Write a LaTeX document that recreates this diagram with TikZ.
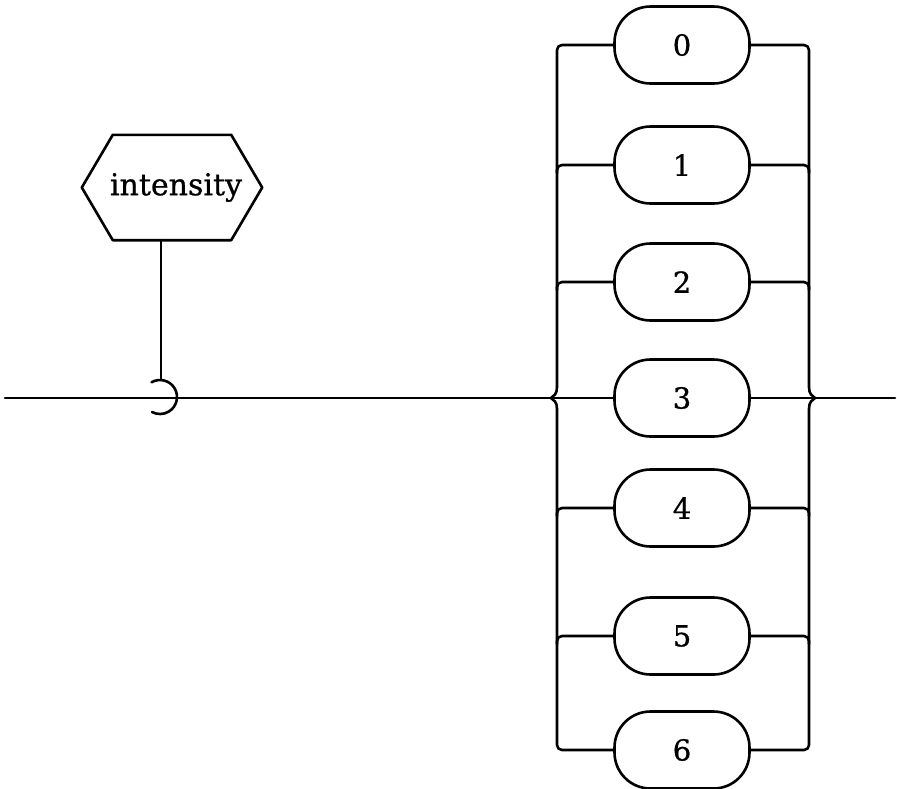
\documentclass[tikz,border=0pt]{standalone}
\usepackage{fontspec}
\setmainfont{DejaVu Serif}
\newfontfamily\tw{DejaVu Serif}[FakeBold=0.8]
\usetikzlibrary{calc}
\tikzset{
  ln/.style={line width=2.6pt, line join=round, line cap=round},
  pill/.style={draw, ln, rounded corners=36pt, minimum width=135pt, minimum height=77pt, inner sep=0pt, font=\tw\fontsize{29}{31}\selectfont},
  rc/.style={rounded corners=5pt},
}
\begin{document}
\begin{tikzpicture}[x=1pt,y=1pt]
\useasboundingbox (0,0) rectangle (897,-788);
% hexagon
\node[minimum width=180pt, minimum height=105pt, inner sep=0pt, font=\tw\fontsize{30}{32}\selectfont] (hex) at (172,-187.5) {\hspace*{8pt}\raisebox{-1pt}{intensity}};
\draw[ln] (hex.west) -- ([xshift=31pt]hex.north west) -- ([xshift=-31pt]hex.north east) -- (hex.east)
  -- ([xshift=-31pt]hex.south east) -- ([xshift=31pt]hex.south west) -- cycle;
% pills
\foreach \n/\y in {0/45,1/165,2/282,3/398,4/508,5/636,6/750}{
  \node[pill] (p\n) at (682,-\y) {\n};
}
% coordinates
\coordinate (start) at (5,-398);
\coordinate (end) at (895,-398);
\coordinate (hooktop) at (161,-380);
\coordinate (hookc) at (160,-397);
\coordinate (lcusp) at (551,-398);
\coordinate (rcusp) at (815,-398);
\coordinate (la) at (557,-387);
\coordinate (lb) at (557,-409);
\coordinate (ra) at (809,-387);
\coordinate (rb) at (809,-409);
% stem and hook
\draw[ln] (hooktop |- hex.south) -- (hooktop);
\draw[ln] ([shift={(120:17)}]hookc) arc (120:-118:17);
% main line
\draw[ln] (start) -- (lcusp) -- (p3.west);
\draw[ln] (p3.east) -- (rcusp) -- (end);
% left bus
\draw[ln, rc] (p0.west) -| (la);
\draw[ln] (la) .. controls (557,-394) and (554,-396) .. (lcusp) .. controls (554,-400) and (557,-402) .. (lb);
\draw[ln, rc] (lb) |- (p6.west);
% right bus
\draw[ln, rc] (p0.east) -| (ra);
\draw[ln] (ra) .. controls (809,-394) and (812,-396) .. (rcusp) .. controls (812,-400) and (809,-402) .. (rb);
\draw[ln, rc] (rb) |- (p6.east);
% branches
\foreach \n in {1,2,4,5}{
  \draw[ln, rc] (p\n.west) -| ($(557,0)!(p\n.west)!(557,-1) + (0,-8)$);
  \draw[ln, rc] (p\n.east) -| ($(809,0)!(p\n.east)!(809,-1) + (0,-8)$);
}
\end{tikzpicture}
\end{document}
